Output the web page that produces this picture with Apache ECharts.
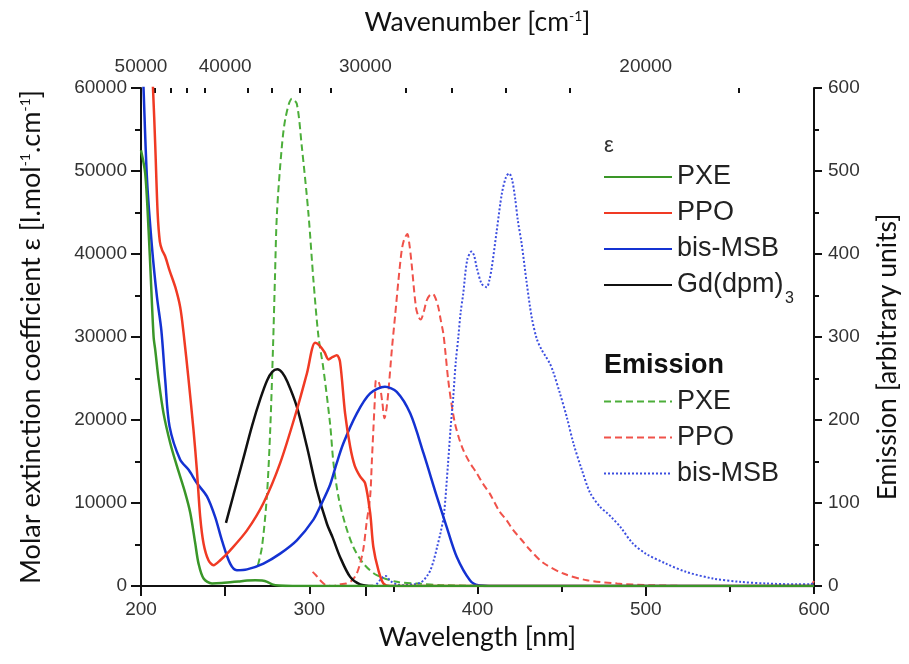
<!DOCTYPE html>
<html><head><meta charset="utf-8">
<script src="https://cdn.jsdelivr.net/npm/echarts@6/dist/echarts.min.js"></script>
<style>html,body{margin:0;padding:0;background:#fff}#c{width:909px;height:664px}</style>
</head><body><div id="c"></div>
<script>
// ---- data: [wavelength nm, value] ----
const pxeAbs = [[200,52500],[202.5,49700],[204.5,42900],[205.9,36800],[207.5,30000],[208.5,28400],[210.5,24800],[213.4,20800],[217.4,17200],[221.4,14400],[226.3,11200],[229.3,8800],[232.2,5200],[234.2,2700],[237.2,900],[242.2,300],[248,350],[253,450],[258,550],[263,650],[268,700],[272,650],[275,500],[278,200],[282,60],[290,0],[600,0]];
const ppoAbs = [[205,68000],[207.1,60100],[208.5,52900],[209.9,44900],[211.2,41500],[212.5,40500],[214.4,39700],[217,38000],[220.4,36000],[223.3,33600],[225.3,30500],[228.3,24800],[231.2,18800],[233.2,14000],[235.2,8300],[237.2,5100],[240.1,3100],[243.1,2500],[247.1,3100],[253,4300],[263,6700],[272.8,10000],[282.7,14800],[292.6,21200],[298.6,25600],[303.5,29300],[306,29000],[309,28200],[311.5,27300],[314,27600],[316.4,27800],[318.3,27000],[321.3,20800],[324.3,16800],[327,14500],[330.2,13200],[333.2,12400],[336.2,8800],[338.1,4700],[341.1,1900],[344.1,300],[348,0],[600,0]];
const bisAbs = [[200,68000],[201.5,60000],[203.6,48900],[206.5,40900],[209.5,34800],[212.1,30800],[214.4,24800],[217,19200],[223.3,15200],[228.3,14000],[233.2,12400],[239.2,10800],[244.1,8300],[248.1,5500],[253,2700],[257,1900],[263,2000],[272.8,2700],[282.7,3900],[292.6,5500],[302.5,8000],[307,9800],[312.4,12200],[316,14600],[320.3,17200],[328.3,20800],[336.2,23200],[345,24000],[352,23400],[360,20800],[367.9,16000],[375.8,10800],[381.7,7100],[387.7,3500],[395.5,700],[400.5,100],[410,0],[600,0]];
const gdAbs = [[250.5,7600],[255,11000],[261,15500],[266,19300],[271,22600],[275,24800],[278,25800],[281,26100],[284,25700],[287,24600],[292.6,21600],[298.6,16800],[304.5,11600],[310.5,7500],[314,5800],[318.3,3500],[324.3,1100],[330.2,200],[338,0]];
const pxeEm = [[269.5,25],[271.9,47],[274.8,108],[276.8,188],[278.5,290],[279.6,370],[280.8,449],[283.7,529],[286,565],[289.7,587],[292.6,581],[295.6,529],[299.5,449],[302.5,368],[305.5,300],[308.4,262],[312.4,195],[314.4,148],[317.3,108],[321.3,75],[326.2,47],[332.2,27],[340.1,13],[352,5],[364,3],[380,1],[420,0],[600,0]];
const ppoEm = [[302,17],[304,13],[306,8],[308,4],[310,1],[314,0],[318,2],[322,3],[325,6],[328,14],[330.2,27],[332.2,45],[334,75],[336.2,108],[337.2,150],[338.1,188],[339,225],[339.7,248],[341,247],[342.1,240],[343.5,220],[344.7,202],[346,215],[347.1,236],[349.1,285],[351,325],[353,368],[355,405],[356.5,418],[358.3,424],[359.5,412],[360.8,389],[363.4,336],[365,324],[366.2,321],[368,330],[369.8,344],[371.5,350],[373.4,352],[375,347],[376.7,336],[378,322],[379.7,304],[381,280],[382.6,248],[384.5,220],[386.6,196],[389,178],[391.5,164],[395,150],[399.5,136],[403,124],[407.4,111],[413,90],[417,80],[421,68],[426,56],[431,44],[439,28],[451,15],[465,7],[483,3],[502,1],[530,0],[595,0],[598,1],[600,6]];
const bisEm = [[340,2],[342,7],[344,11],[345.5,12],[347,9],[349,5],[352,2],[356,1],[362,2],[366,4],[368,7],[370,12],[372,19],[374,31],[376,47],[378,64],[380,85],[382.5,148],[384,190],[385.6,228],[387,268],[388.6,300],[390,330],[391.5,352],[393.9,393],[396.5,403],[398,398],[399.5,384],[402.5,364],[405.5,360],[407,368],[408.5,384],[411.5,429],[414.5,473],[417,493],[418.8,497],[420.5,490],[422.3,468],[424,440],[426.2,413],[429.2,366],[432.2,324],[435.2,298],[438,285],[440.1,278],[443,268],[445,258],[449,232],[453,204],[457,172],[462,140],[467,112],[473,95],[477,88],[480,82],[485,71],[492,52],[500,39],[512,27],[524,17],[540,9],[556,5],[572,3],[590,2],[598,2],[600,4]];

// ---- tick labels ----
const wavenumberMajor = [50000, 40000, 30000, 20000];
const wavenumberMinor = [48000, 46000, 44000, 42000, 38000, 36000, 34000, 32000, 28000, 26000, 24000, 22000, 18000];
const epsNames = ['PXE', 'PPO', 'bis-MSB', 'Gd(dpm)'];
const gdSub = '3';
const emNames = ['PXE_em', 'PPO_em', 'bisMSB_em'];
const emLabels = {'PXE_em': 'PXE', 'PPO_em': 'PPO', 'bisMSB_em': 'bis-MSB'};

const majorPos = wavenumberMajor.map(w => 1e7 / w);
const minorPos = wavenumberMinor.map(w => 1e7 / w);

const C = {
  green: '#3a9628', red: '#f03a24', blue: '#1432d2', black: '#111111',
  greenD: '#4cae3a', redD: '#f0524a', blueD: '#3c4ee0'
};

function mk(name, data, color, width, type, yIdx, z) {
  return {
    name, type: 'line', data, xAxisIndex: 0, yAxisIndex: yIdx,
    symbol: 'none', showSymbol: false, smooth: 0.3,
    clip: true, silent: true, z,
    lineStyle: {color, width, type}, itemStyle: {color}
  };
}

const labelFont = {fontFamily: 'Liberation Sans', fontSize: 19, color: '#333'};
function nameFont(size) {
  return {fontFamily: 'Lato', fontSize: size, color: '#111',
    rich: {sup: {fontFamily: 'Lato', fontSize: 14, verticalAlign: 'top', lineHeight: 14, color: '#111'}}};
}
const axisLine = {show: true, lineStyle: {color: '#111', width: 2}};
const tickStyle = {color: '#111', width: 2};

const legendText = {fontFamily: 'Liberation Sans', fontSize: 27, lineHeight: 28, color: '#222'};
const legendBase = {orient: 'vertical', left: 603, padding: 0, itemWidth: 68, itemHeight: 14, itemGap: 8,
  selectedMode: false, itemStyle: {opacity: 0}, textStyle: legendText};

const chart = echarts.init(document.getElementById('c'), null, {renderer: 'canvas'});
chart.setOption({
  animation: false,
  backgroundColor: '#fff',
  grid: {left: 141, right: 95, top: 88, bottom: 78, containLabel: false},
  xAxis: [
    {type: 'value', position: 'bottom', min: 200, max: 600, interval: 100,
     axisLine, axisTick: {length: 8, lineStyle: tickStyle},
     minorTick: {show: true, splitNumber: 2, length: 6, lineStyle: tickStyle},
     splitLine: {show: false}, minorSplitLine: {show: false},
     axisLabel: Object.assign({margin: 14}, labelFont),
     name: 'Wavelength [nm]', nameLocation: 'middle', nameGap: 35, nameTextStyle: nameFont(26.5)},
    {type: 'value', position: 'top', min: 200, max: 600,
     axisLine, splitLine: {show: false},
     axisTick: {inside: true, length: 10, lineStyle: tickStyle, customValues: majorPos},
     axisLabel: Object.assign({margin: 12, customValues: majorPos, showMinLabel: true, showMaxLabel: true,
       formatter: v => { let best = wavenumberMajor[0]; wavenumberMajor.forEach(w => { if (Math.abs(1e7 / w - v) < Math.abs(1e7 / best - v)) best = w; }); return String(best); }}, labelFont),
     name: 'Wavenumber [cm{sup|-1}]', nameLocation: 'middle', nameGap: 52, nameTextStyle: nameFont(26.5)},
    {type: 'value', position: 'top', min: 200, max: 600,
     axisLine: {show: false}, splitLine: {show: false},
     axisTick: {inside: true, length: 5, lineStyle: tickStyle, customValues: minorPos},
     axisLabel: {show: false}}
  ],
  yAxis: [
    {type: 'value', position: 'left', min: 0, max: 60000, interval: 10000,
     axisLine, axisTick: {length: 10, lineStyle: tickStyle},
     minorTick: {show: true, splitNumber: 2, length: 6, lineStyle: tickStyle},
     splitLine: {show: false}, minorSplitLine: {show: false},
     axisLabel: Object.assign({margin: 14, formatter: v => String(v)}, labelFont),
     name: 'Molar extinction coefficient ε [l.mol{sup|-1}.cm{sup|-1}]', nameLocation: 'middle', nameRotate: 90, nameGap: 96, nameTextStyle: nameFont(27)},
    {type: 'value', position: 'right', min: 0, max: 600, interval: 100,
     axisLine, axisTick: {length: 8, lineStyle: tickStyle},
     minorTick: {show: true, splitNumber: 2, length: 5, lineStyle: tickStyle},
     splitLine: {show: false}, minorSplitLine: {show: false},
     axisLabel: Object.assign({margin: 14, formatter: v => String(v)}, labelFont),
     name: 'Emission [arbitrary units]', nameLocation: 'middle', nameRotate: 90, nameGap: 60,
     nameTextStyle: Object.assign(nameFont(26.5), {padding: [0, 40, 0, 0]})}
  ],
  legend: [
    Object.assign({}, legendBase, {data: epsNames, top: 163}),
    Object.assign({}, legendBase, {data: emNames, top: 387.5, formatter: n => emLabels[n]})
  ],
  graphic: [
    {type: 'text', x: 604, y: 146, style: {text: 'ε', fontFamily: 'Liberation Sans', fontSize: 22, fill: '#333', verticalAlign: 'middle'}},
    {type: 'text', x: 604, y: 366, style: {text: 'Emission', fontFamily: 'Liberation Sans', fontSize: 27, fontWeight: 'bold', fill: '#111', verticalAlign: 'middle'}},
    {type: 'text', x: 785, y: 299, style: {text: gdSub, fontFamily: 'Liberation Sans', fontSize: 16, fill: '#222', verticalAlign: 'middle'}}
  ],
  series: [
    mk('PXE_em', pxeEm, C.greenD, 2, [7, 4], 1, 2),
    mk('PPO_em', ppoEm, C.redD, 2, [7, 4], 1, 2),
    mk('bisMSB_em', bisEm, C.blueD, 2, [2, 2], 1, 2),
    mk('Gd(dpm)', gdAbs, C.black, 2.5, 'solid', 0, 3),
    mk('bis-MSB', bisAbs, C.blue, 2.5, 'solid', 0, 3),
    mk('PPO', ppoAbs, C.red, 2.5, 'solid', 0, 3),
    mk('PXE', pxeAbs, C.green, 2.5, 'solid', 0, 4)
  ]
});
</script></body></html>
